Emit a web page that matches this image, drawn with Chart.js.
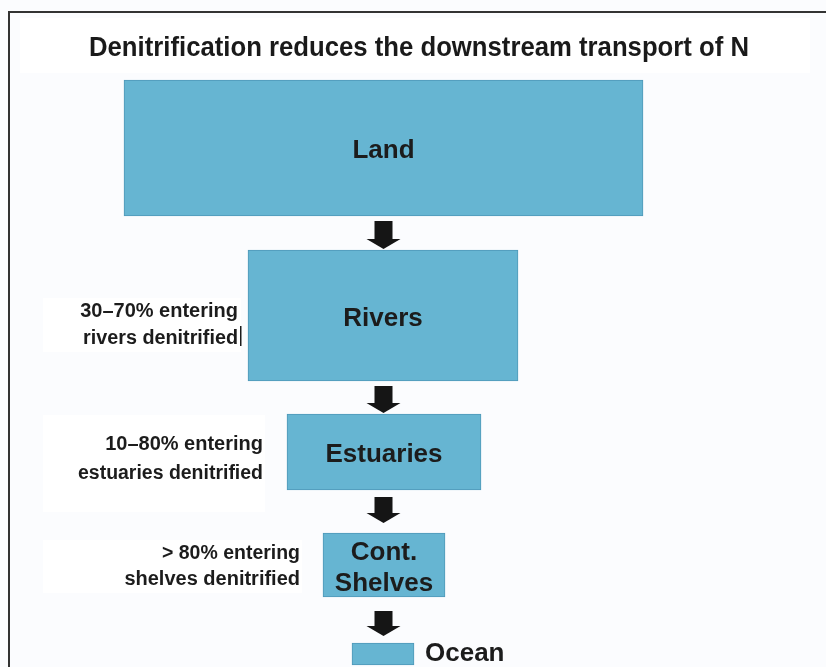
<!DOCTYPE html>
<html>
<head>
<meta charset="utf-8">
<script src="https://cdn.jsdelivr.net/npm/chart.js@4"></script>
<style>
  body { margin: 0; background: #fbfcfe; }
  canvas { display: block; }
</style>
</head>
<body>
<canvas id="flow" width="826" height="667"></canvas>
<script>
// stages of the N transport chain, box extents (x: left/right, y: top/bottom)
const stages = ['Land', 'Rivers', 'Estuaries', 'Cont.\nShelves', 'Ocean'];
const boxLeft = [124, 248, 287, 323, 352];
const boxRight = [643, 518, 481, 445, 414];
const boxTop = [80, 250, 414, 533, 643];
const boxBottom = [216, 381, 490, 597, 665];

// arrows between stages
const arrowTop = [221, 386, 497, 611];
const arrowTip = [249, 413, 523, 636];

// denitrification notes next to rivers, estuaries, shelves
const notes = [
    ['30–70% entering', 'rivers denitrified'],
    ['10–80% entering', 'estuaries denitrified'],
    ['> 80% entering', 'shelves denitrified'],
];

const titleText = 'Denitrification reduces the downstream transport of N';

const boxColor = '#66b5d2';
const inkColor = '#1c1c1c';

const datasets = stages.map((name, i) => ({
    label: name,
    data: [{x: [boxLeft[i], boxRight[i]], y: (boxTop[i] + boxBottom[i]) / 2}],
    barThickness: boxBottom[i] - boxTop[i],
    backgroundColor: boxColor,
    borderColor: '#4f98b8',
    borderWidth: 1,
    borderSkipped: false,
    grouped: false,
}));

const backdrop = {
    id: 'backdrop',
    beforeDatasetsDraw(chart) {
        const ctx = chart.ctx;
        ctx.save();
        ctx.fillStyle = '#fbfcfe';
        ctx.fillRect(0, 0, chart.width, chart.height);
        // white title band
        ctx.fillStyle = '#ffffff';
        ctx.fillRect(20, 18, 790, 55);
        // white note panels
        const panels = [[43, 298, 198, 54], [43, 415, 222, 97], [43, 540, 259, 53]];
        panels.forEach(p => ctx.fillRect(p[0], p[1], p[2], p[3]));
        // frame
        ctx.strokeStyle = '#333';
        ctx.lineWidth = 2;
        ctx.beginPath();
        ctx.moveTo(9, 667);
        ctx.lineTo(9, 12);
        ctx.lineTo(826, 12);
        ctx.stroke();
        // title
        ctx.fillStyle = '#1a1a1a';
        ctx.font = 'bold 28px "Liberation Sans", Arial, sans-serif';
        ctx.textAlign = 'center';
        ctx.textBaseline = 'alphabetic';
        ctx.fillText(titleText, 419, 56, 660);
        ctx.restore();
    },
    afterDatasetsDraw(chart) {
        const ctx = chart.ctx;
        const xs = chart.scales.x;
        const ys = chart.scales.y;
        ctx.save();
        ctx.fillStyle = inkColor;

        // stage labels
        ctx.font = 'bold 26px "Liberation Sans", Arial, sans-serif';
        ctx.textBaseline = 'middle';
        stages.forEach((name, i) => {
            const lines = name.split('\n');
            const last = i === stages.length - 1;
            const cy = ys.getPixelForValue((boxTop[i] + boxBottom[i]) / 2);
            if (last) {
                ctx.textAlign = 'left';
                ctx.fillText(name, xs.getPixelForValue(boxRight[i]) + 11, cy);
                return;
            }
            ctx.textAlign = 'center';
            const cx = xs.getPixelForValue((boxLeft[i] + boxRight[i]) / 2);
            const lh = 31;
            lines.forEach((ln, k) => {
                ctx.fillText(ln, cx, cy + (k - (lines.length - 1) / 2) * lh + 3);
            });
        });

        // arrows
        arrowTop.forEach((t, i) => {
            const cx = xs.getPixelForValue((boxLeft[0] + boxRight[0]) / 2);
            const top = ys.getPixelForValue(t);
            const tip = ys.getPixelForValue(arrowTip[i]);
            const headStart = tip - 10;
            ctx.fillStyle = '#151515';
            ctx.fillRect(cx - 9, top, 18, headStart - top + 1);
            ctx.beginPath();
            ctx.moveTo(cx - 17, headStart);
            ctx.lineTo(cx + 17, headStart);
            ctx.lineTo(cx, tip);
            ctx.closePath();
            ctx.fill();
        });

        // notes
        ctx.fillStyle = inkColor;
        ctx.font = 'bold 20px "Liberation Sans", Arial, sans-serif';
        ctx.textAlign = 'right';
        ctx.textBaseline = 'middle';
        const noteRight = [238, 263, 300];
        const noteY = [[311, 338], [444, 473], [553, 579]];
        const noteW = [[158, 155], [158, 185], [138, 184]];
        notes.forEach((lines, i) => {
            lines.forEach((ln, k) => ctx.fillText(ln, noteRight[i], noteY[i][k], noteW[i][k]));
        });
        // small cursor mark next to the rivers note
        ctx.fillRect(240, 326, 1.5, 20);
        ctx.restore();
    }
};

new Chart(document.getElementById('flow').getContext('2d'), {
    type: 'bar',
    data: {datasets: datasets},
    options: {
        indexAxis: 'y',
        responsive: false,
        animation: false,
        layout: {padding: 0},
        scales: {
            x: {type: 'linear', min: 0, max: 826, offset: false, display: false},
            y: {type: 'linear', min: 0, max: 667, reverse: true, offset: false, display: false},
        },
        plugins: {
            legend: {display: false},
            tooltip: {enabled: false},
        },
    },
    plugins: [backdrop],
});
</script>
</body>
</html>
